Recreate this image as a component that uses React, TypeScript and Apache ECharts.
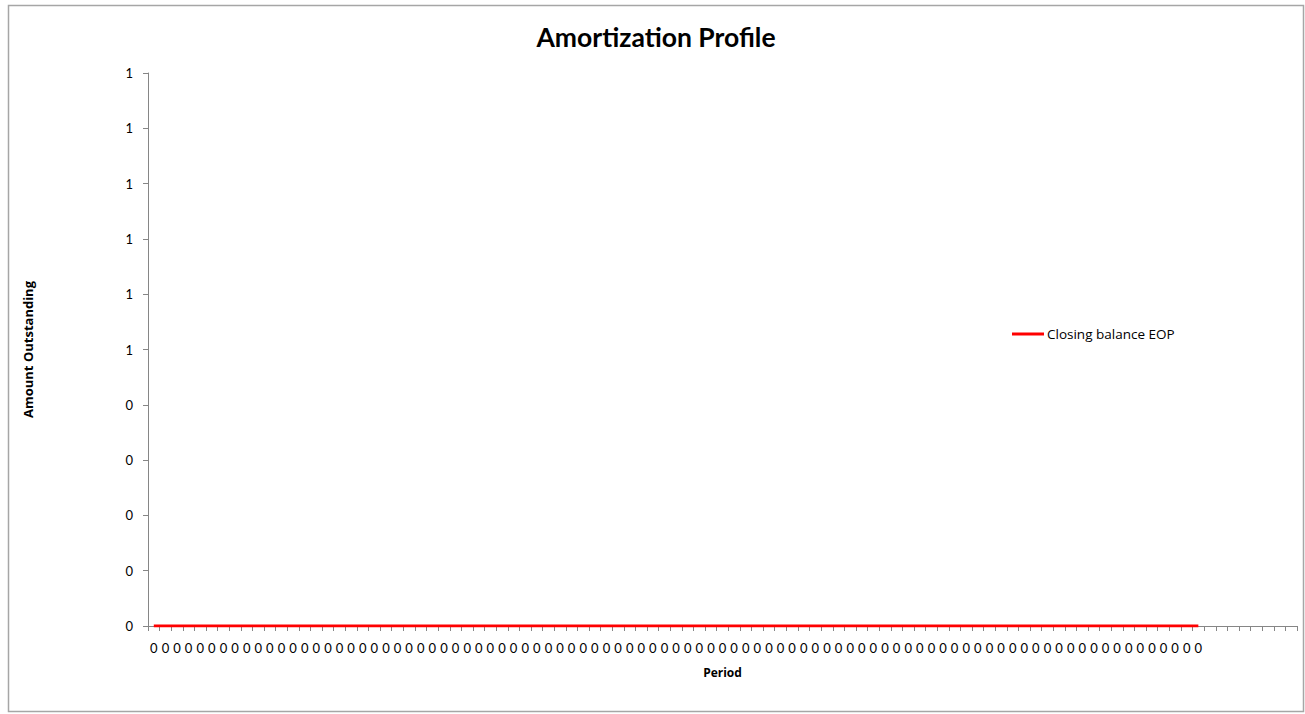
import React, { useEffect, useRef } from "react";
import * as echarts from "echarts";

const dataPeriods = 91;
const blankPeriods = 8;
const periodLabels: string[] = [
  ...Array(dataPeriods).fill("0"),
  ...Array(blankPeriods).fill(""),
];
const closingBalance: number[] = Array(dataPeriods).fill(0);
const seriesName = "Closing balance EOP";
const FONT = "Lato, 'Open Sans', sans-serif";
const FONT2 = "'Open Sans', Lato, sans-serif";

export default function App() {
  const ref = useRef<HTMLDivElement>(null);
  useEffect(() => {
    if (!ref.current) return;
    const chart = echarts.init(ref.current, undefined, { renderer: "svg" });
    chart.setOption({
      animation: false,
      backgroundColor: "#ffffff",
      textStyle: { fontFamily: FONT },
      title: {
        text: "Amortization Profile",
        left: 651,
        textAlign: "center",
        top: 18,
        textStyle: { fontFamily: FONT, fontSize: 26.5, fontWeight: "bold", color: "#000" },
      },
      legend: {
        left: 1012,
        top: 327,
        padding: 0,
        itemWidth: 32,
        itemHeight: 3,
        itemGap: 0,
        data: [{ name: seriesName, icon: "rect" }],
        textStyle: { fontFamily: FONT2, fontSize: 13.5, color: "#000", padding: [0, 0, 0, -2] },
      },
      graphic: [
        {
          type: "rect",
          shape: { x: 8.5, y: 5.5, width: 1295, height: 706 },
          style: { fill: "none", stroke: "#a6a6a6", lineWidth: 1.5 },
          silent: true,
        },
      ],
      grid: { left: 148, right: 8, top: 73, bottom: 88, containLabel: false },
      xAxis: {
        type: "category",
        data: periodLabels,
        boundaryGap: true,
        name: "Period",
        nameLocation: "middle",
        nameGap: 40,
        nameTextStyle: { fontFamily: FONT2, fontSize: 12, fontWeight: "bold", color: "#000" },
        axisLine: { lineStyle: { color: "#868686", width: 1 } },
        axisTick: { show: true, interval: 0, length: 5, lineStyle: { color: "#868686" } },
        axisLabel: { interval: 0, fontFamily: FONT, fontSize: 13, color: "#000", margin: 15 },
        splitLine: { show: false },
      },
      yAxis: {
        type: "value",
        min: 0,
        max: 1,
        interval: 0.1,
        name: "Amount Outstanding",
        nameLocation: "middle",
        nameRotate: 90,
        nameGap: 114,
        nameTextStyle: { fontFamily: FONT2, fontSize: 13, fontWeight: "bold", color: "#000" },
        axisLine: { show: true, lineStyle: { color: "#868686", width: 1 } },
        axisTick: { show: true, length: 5, lineStyle: { color: "#868686" } },
        axisLabel: {
          fontFamily: FONT,
          fontSize: 13,
          color: "#000",
          margin: 15,
          formatter: (v: number) => String(Math.round(v)),
        },
        splitLine: { show: false },
      },
      series: [
        {
          name: seriesName,
          type: "line",
          data: closingBalance,
          symbol: "none",
          color: "#ff0000",
          lineStyle: { color: "#ff0000", width: 3 },
        },
      ],
    });
    return () => chart.dispose();
  }, []);
  return (
    <div
      ref={ref}
      style={{ position: "absolute", left: 0, top: 0, width: 1305, height: 714 }}
    />
  );
}
